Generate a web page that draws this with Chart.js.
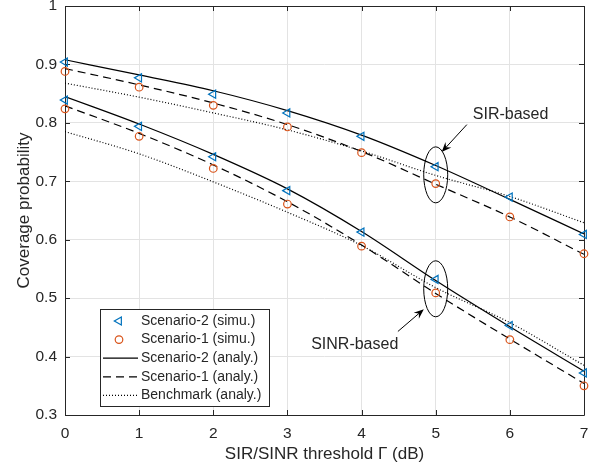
<!DOCTYPE html>
<html>
<head>
<meta charset="utf-8">
<script src="https://cdn.jsdelivr.net/npm/chart.js@4.4.1/dist/chart.umd.min.js"></script>
<style>
  html, body { margin: 0; padding: 0; background: #fff; }
  #wrap { width: 602px; height: 470px; }
</style>
</head>
<body>
<div id="wrap"><canvas id="chart" width="602" height="470"></canvas></div>
<script>
// --- data ---
const thresholds = [0, 1, 2, 3, 4, 5, 6, 7];
const xTicks = [0, 1, 2, 3, 4, 5, 6, 7];
const yTicks = [0.3, 0.4, 0.5, 0.6, 0.7, 0.8, 0.9, 1];

// SIR-based curves
const sirS2Simu  = [0.904, 0.877, 0.849, 0.817, 0.777, 0.725, 0.673, 0.609];
const sirS1Simu  = [0.888, 0.861, 0.830, 0.793, 0.749, 0.696, 0.639, 0.576];
const sirS2Analy = [0.908, 0.882, 0.855, 0.821, 0.779, 0.727, 0.669, 0.610];
const sirS1Analy = [0.893, 0.865, 0.834, 0.797, 0.751, 0.695, 0.639, 0.575];
const sirBench   = [0.868, 0.844, 0.817, 0.788, 0.752, 0.710, 0.674, 0.629];

// SINR-based curves
const sinrS2Simu  = [0.839, 0.794, 0.742, 0.684, 0.613, 0.532, 0.453, 0.372];
const sinrS1Simu  = [0.824, 0.777, 0.722, 0.661, 0.589, 0.509, 0.429, 0.350];
const sinrS2Analy = [0.845, 0.798, 0.746, 0.687, 0.614, 0.530, 0.451, 0.375];
const sinrS1Analy = [0.829, 0.782, 0.728, 0.665, 0.591, 0.508, 0.430, 0.354];
const sinrBench   = [0.785, 0.747, 0.699, 0.647, 0.590, 0.518, 0.458, 0.385];

const legendLabels = [
  'Scenario-2 (simu.)',
  'Scenario-1 (simu.)',
  'Scenario-2 (analy.)',
  'Scenario-1 (analy.)',
  'Benchmark (analy.)'
];

// annotation groups (ellipse around x = 5, arrow and label)
const groups = [
  { label: 'SIR-based',  ellipse: [5, 0.711], text: [5.50, 0.814], arrowFrom: [5.42, 0.797], arrowTo: [5.08, 0.750] },
  { label: 'SINR-based', ellipse: [5, 0.516], text: [3.32, 0.420], arrowFrom: [4.49, 0.443], arrowTo: [4.84, 0.481] }
];

// --- styles ---
const FONT = "'Liberation Sans', Arial, Helvetica, sans-serif";
const AXIS_COLOR = '#262626';
const GRID_COLOR = '#e3e3e3';
const BLUE = '#0072BD';
const ORANGE = '#D95319';
const DASH = [8, 5];
const DOT = [1, 2];

const pts = arr => arr.map((v, i) => ({ x: thresholds[i], y: v }));

const triStyle = { pointStyle: 'triangle', rotation: -90, radius: 4.7, borderWidth: 1.2 };
const circStyle = { pointStyle: 'circle', rotation: 0, radius: 3.8, borderWidth: 1.2 };

function markerSet(data) {
  return { data: pts(data), showLine: false, order: 0, clip: false,
    borderColor: data === sirS2Simu || data === sinrS2Simu ? BLUE : ORANGE,
    backgroundColor: 'rgba(0,0,0,0)' };
}

function lineSet(data, dash) {
  return { data: pts(data), showLine: true, order: 1, borderColor: '#000', borderWidth: 1.2,
    borderDash: dash, pointRadius: 0, pointHoverRadius: 0, cubicInterpolationMode: 'monotone', fill: false };
}

const datasets = [
  Object.assign(markerSet(sirS2Simu), { pointStyle: 'triangle', pointRotation: -90, pointRadius: 4.7, pointBorderWidth: 1.2 }),
  Object.assign(markerSet(sinrS2Simu), { pointStyle: 'triangle', pointRotation: -90, pointRadius: 4.7, pointBorderWidth: 1.2 }),
  Object.assign(markerSet(sirS1Simu), { pointStyle: 'circle', pointRadius: 3.8, pointBorderWidth: 1.2 }),
  Object.assign(markerSet(sinrS1Simu), { pointStyle: 'circle', pointRadius: 3.8, pointBorderWidth: 1.2 }),
  lineSet(sirS2Analy, []),
  lineSet(sinrS2Analy, []),
  lineSet(sirS1Analy, DASH),
  lineSet(sinrS1Analy, DASH),
  lineSet(sirBench, DOT),
  lineSet(sinrBench, DOT)
];

// box around the plot with inward ticks on all four sides
const axesBox = {
  id: 'axesBox',
  beforeDatasetsDraw(chart) {
    const { ctx, chartArea: a, scales: { x, y } } = chart;
    const len = 5;
    ctx.save();
    ctx.strokeStyle = AXIS_COLOR;
    ctx.lineWidth = 1;
    ctx.beginPath();
    ctx.rect(Math.round(a.left) + 0.5, Math.round(a.top) + 0.5,
      Math.round(a.right - a.left), Math.round(a.bottom - a.top));
    xTicks.forEach(v => {
      const px = Math.round(x.getPixelForValue(v)) + 0.5;
      ctx.moveTo(px, a.bottom); ctx.lineTo(px, a.bottom - len);
      ctx.moveTo(px, a.top); ctx.lineTo(px, a.top + len);
    });
    yTicks.forEach(v => {
      const py = Math.round(y.getPixelForValue(v)) + 0.5;
      ctx.moveTo(a.left, py); ctx.lineTo(a.left + len, py);
      ctx.moveTo(a.right, py); ctx.lineTo(a.right - len, py);
    });
    ctx.stroke();
    ctx.restore();
  }
};

function drawArrow(ctx, x0, y0, x1, y1) {
  const ang = Math.atan2(y1 - y0, x1 - x0);
  const L = 10, W = 4;
  ctx.beginPath();
  ctx.moveTo(x0, y0);
  ctx.lineTo(x1 - Math.cos(ang) * 6, y1 - Math.sin(ang) * 6);
  ctx.stroke();
  const bx = x1 - Math.cos(ang) * L, by = y1 - Math.sin(ang) * L;
  const nx = -Math.sin(ang), ny = Math.cos(ang);
  const mx = x1 - Math.cos(ang) * L * 0.65, my = y1 - Math.sin(ang) * L * 0.65;
  ctx.beginPath();
  ctx.moveTo(x1, y1);
  ctx.lineTo(bx + nx * W, by + ny * W);
  ctx.lineTo(mx, my);
  ctx.lineTo(bx - nx * W, by - ny * W);
  ctx.closePath();
  ctx.fill();
}

// ellipses, arrows and their labels
const annotations = {
  id: 'annotations',
  afterDatasetsDraw(chart) {
    const { ctx, scales: { x, y } } = chart;
    ctx.save();
    ctx.strokeStyle = '#000';
    ctx.fillStyle = '#000';
    ctx.lineWidth = 1;
    ctx.font = '16px ' + FONT;
    ctx.textBaseline = 'middle';
    groups.forEach(g => {
      const cx = x.getPixelForValue(g.ellipse[0]);
      const cy = y.getPixelForValue(g.ellipse[1]);
      ctx.beginPath();
      ctx.ellipse(cx, cy, 12, 28, 0, 0, Math.PI * 2);
      ctx.stroke();
      drawArrow(ctx, x.getPixelForValue(g.arrowFrom[0]), y.getPixelForValue(g.arrowFrom[1]),
        x.getPixelForValue(g.arrowTo[0]), y.getPixelForValue(g.arrowTo[1]));
      ctx.fillStyle = AXIS_COLOR;
      ctx.fillText(g.label, x.getPixelForValue(g.text[0]), y.getPixelForValue(g.text[1]));
      ctx.fillStyle = '#000';
    });
    ctx.restore();
  }
};

// legend box in the lower left
const legendBox = {
  id: 'legendBox',
  afterDraw(chart) {
    const ctx = chart.ctx;
    const left = 100, top = 309, w = 169, h = 97, rowH = 18.6;
    ctx.save();
    ctx.fillStyle = '#fff';
    ctx.fillRect(left, top, w, h);
    ctx.strokeStyle = AXIS_COLOR;
    ctx.lineWidth = 1;
    ctx.strokeRect(left + 0.5, top + 0.5, w, h);
    ctx.font = '14px ' + FONT;
    ctx.textBaseline = 'middle';
    legendLabels.forEach((label, i) => {
      const cy = top + 12 + i * rowH;
      ctx.lineWidth = 1.2;
      if (i === 0 || i === 1) {
        ctx.strokeStyle = i === 0 ? BLUE : ORANGE;
        ctx.fillStyle = 'rgba(0,0,0,0)';
        Chart.helpers.drawPoint(ctx, i === 0 ? triStyle : circStyle, 119, cy);
      } else {
        ctx.strokeStyle = '#000';
        ctx.setLineDash(i === 2 ? [] : i === 3 ? DASH : DOT);
        ctx.beginPath();
        ctx.moveTo(103, cy);
        ctx.lineTo(138, cy);
        ctx.stroke();
        ctx.setLineDash([]);
      }
      ctx.fillStyle = AXIS_COLOR;
      ctx.fillText(label, 141, cy);
    });
    ctx.restore();
  }
};

new Chart(document.getElementById('chart'), {
  type: 'scatter',
  data: { datasets },
  plugins: [axesBox, annotations, legendBox],
  options: {
    responsive: false,
    animation: false,
    devicePixelRatio: 1,
    layout: { padding: { left: 0, top: 6, right: 18, bottom: 0 } },
    plugins: { legend: { display: false }, tooltip: { enabled: false } },
    elements: { point: { hoverRadius: 0 } },
    scales: {
      x: {
        type: 'linear', min: 0, max: 7,
        afterBuildTicks: s => { s.ticks = xTicks.map(v => ({ value: v })); },
        afterFit: s => { s.height = 55; s.paddingLeft = 0; s.paddingRight = 0; },
        ticks: { color: AXIS_COLOR, font: { family: FONT, size: 15.5 }, padding: 9, maxRotation: 0 },
        grid: { color: GRID_COLOR, drawTicks: false },
        border: { display: false },
        title: { display: true, text: 'SIR/SINR threshold Γ (dB)', color: AXIS_COLOR,
          font: { family: FONT, size: 17 }, padding: { top: 0, bottom: 5 } }
      },
      y: {
        type: 'linear', min: 0.3, max: 1,
        afterBuildTicks: s => { s.ticks = yTicks.map(v => ({ value: v })); },
        afterFit: s => { s.width = 65; s.paddingTop = 0; s.paddingBottom = 0; },
        ticks: { color: AXIS_COLOR, font: { family: FONT, size: 15.5 }, padding: 8,
          callback: v => (v === 1 ? '1' : v.toFixed(1)) },
        grid: { color: GRID_COLOR, drawTicks: false },
        border: { display: false },
        title: { display: true, text: 'Coverage probability', color: AXIS_COLOR,
          font: { family: FONT, size: 17 }, padding: { top: 14, bottom: 0 } }
      }
    }
  }
});
</script>
</body>
</html>
